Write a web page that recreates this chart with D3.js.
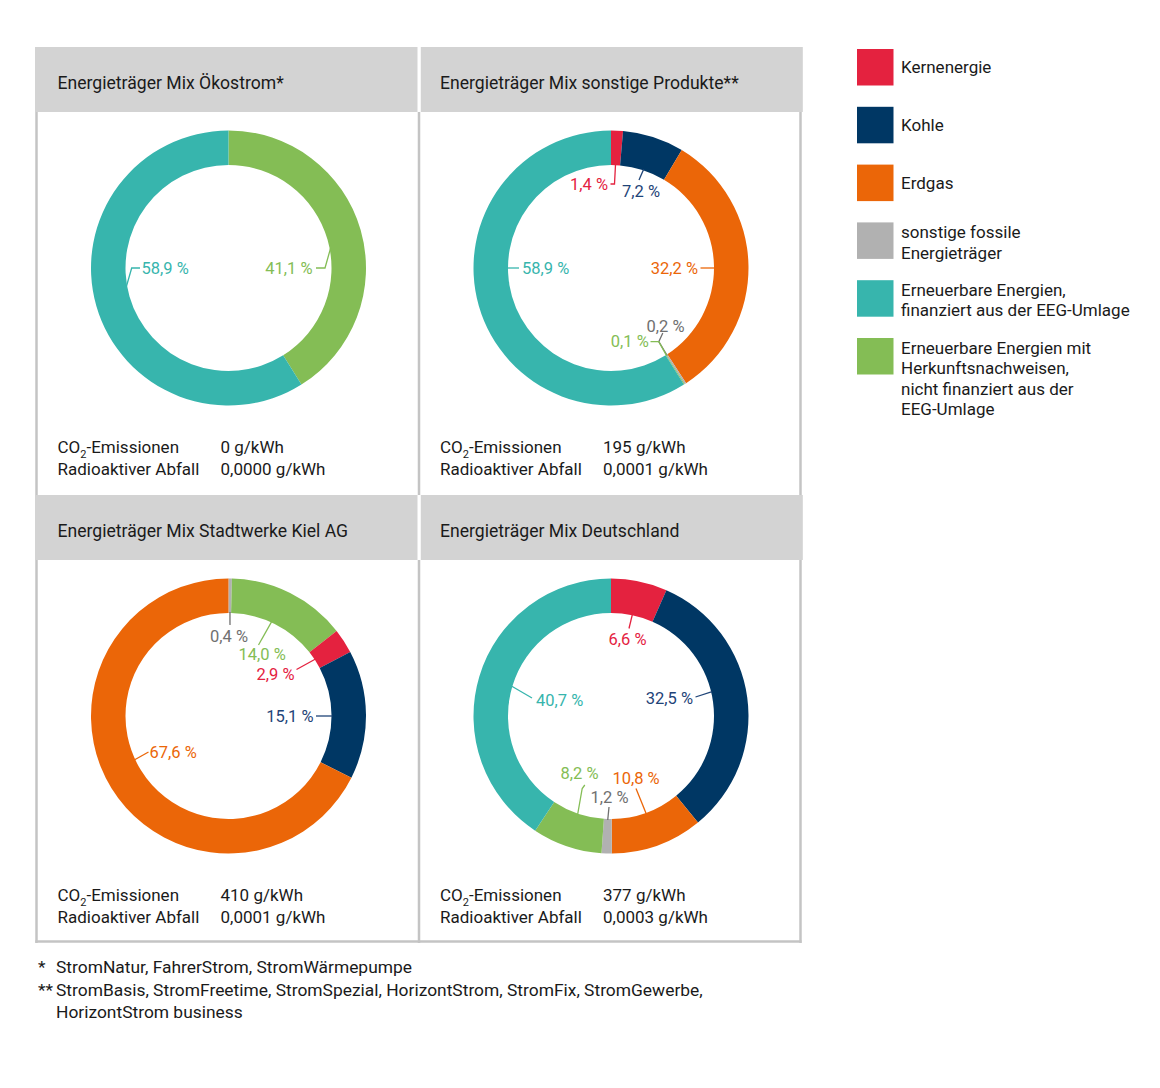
<!DOCTYPE html>
<html>
<head>
<meta charset="utf-8">
<script src="https://cdn.jsdelivr.net/npm/d3@7"></script>
<style>
  body { margin: 0; background: #fff; }
  svg { display: block; font-family: Roboto, "Noto Sans", sans-serif; }
</style>
</head>
<body>
<svg></svg>
<script>
//******************************data*****************************//
var categories = ["Kern", "Kohle", "Erdgas", "Sonstige", "EEG", "HKN"];
var legendLabels = [
  ["Kernenergie"],
  ["Kohle"],
  ["Erdgas"],
  ["sonstige fossile", "Energieträger"],
  ["Erneuerbare Energien,", "finanziert aus der EEG-Umlage"],
  ["Erneuerbare Energien mit", "Herkunftsnachweisen,", "nicht finanziert aus der", "EEG-Umlage"]
];

var panelTitles = [
  "Energieträger Mix Ökostrom*",
  "Energieträger Mix sonstige Produkte**",
  "Energieträger Mix Stadtwerke Kiel AG",
  "Energieträger Mix Deutschland"
];
var co2Values = ["0 g/kWh", "195 g/kWh", "410 g/kWh", "377 g/kWh"];
var wasteValues = ["0,0000 g/kWh", "0,0001 g/kWh", "0,0001 g/kWh", "0,0003 g/kWh"];

// slices in drawing order, clockwise from 12 o'clock
var oekoKeys = ["HKN", "EEG"];
var oekoValues = [41.1, 58.9];
var sonstKeys = ["Kern", "Kohle", "Erdgas", "Sonstige", "HKN", "EEG"];
var sonstValues = [1.4, 7.2, 32.2, 0.2, 0.1, 58.9];
var kielKeys = ["Sonstige", "HKN", "Kern", "Kohle", "Erdgas"];
var kielValues = [0.4, 14.0, 2.9, 15.1, 67.6];
var deKeys = ["Kern", "Kohle", "Erdgas", "Sonstige", "HKN", "EEG"];
var deValues = [6.6, 32.5, 10.8, 1.2, 8.2, 40.7];

var footnotes = [
  ["*", "StromNatur, FahrerStrom, StromWärmepumpe"],
  ["**", "StromBasis, StromFreetime, StromSpezial, HorizontStrom, StromFix, StromGewerbe,"],
  ["", "HorizontStrom business"]
];

//*****************************label placement (px from donut centre)********************************//
// a: angle where the leader meets the ring (null = slice middle), pts: leader bends, t: text spot
var oekoLabels = [
  {a: 79, pts: [[96.5, 0], [87.5, 0]], t: [84, 0], anchor: "end"},
  {a: 259.5, pts: [[-96.8, 0], [-88.5, 0]], t: [-87, 0], anchor: "start"}
];
var sonstLabels = [
  {a: 2.5, pts: [[3.5, -84], [-0.5, -84]], t: [-3, -84], anchor: "end"},
  {a: 18.3, pts: [[28, -88]], t: [11, -77], anchor: "start"},
  {a: 90, pts: [[89.5, 0]], t: [87, 0], anchor: "end"},
  {a: 147.3, pts: [[47.8, 73.7], [51.8, 65]], t: [35.5, 58.7], anchor: "start"},
  {a: 147.6, pts: [[47.8, 73.7], [39.5, 73.7]], t: [37.8, 73.7], anchor: "end"},
  {a: 270, pts: [[-92, 0]], t: [-89, 0], anchor: "start"}
];
var kielLabels = [
  {a: 0.8, pts: [[1.5, -91]], t: [0.5, -80], anchor: "middle"},
  {a: 24.6, pts: [[30, -71]], t: [10, -62], anchor: "start"},
  {a: 56.8, pts: [[68, -46.5]], t: [66, -42], anchor: "end"},
  {a: 90, pts: [[87.5, 0]], t: [85, 0], anchor: "end"},
  {a: 245, pts: [[-80, 36]], t: [-79, 36], anchor: "start"}
];
var deLabels = [
  {a: null, pts: [[18, -87.5]], t: [16.5, -76.5], anchor: "middle"},
  {a: 76.5, pts: [[84.5, -19]], t: [82, -18], anchor: "end"},
  {a: null, pts: [[25, 72.5]], t: [25, 62.5], anchor: "middle"},
  {a: null, pts: [[-2, 91]], t: [-1.5, 81], anchor: "middle"},
  {a: null, pts: [[-28.8, 72.5], [-26.2, 69]], t: [-31.5, 57.5], anchor: "middle"},
  {a: null, pts: [[-79, -18]], t: [-75, -15.5], anchor: "start"}
];

//*****************************drawing********************************//
var screen = {width: 1160, height: 1088};
var svg = d3.select("svg")
  .attr("width", screen.width)
  .attr("height", screen.height);

var fill = d3.scaleOrdinal(categories,
  ["#e4223f", "#003764", "#eb6608", "#b1b1b1", "#37b5ad", "#84bd55"]);
var ink = d3.scaleOrdinal(categories,
  ["#e4223f", "#1f4478", "#eb6608", "#707070", "#37b5ad", "#84bd55"]);

var de = d3.formatLocale({decimal: ",", thousands: ".", grouping: [3], currency: ["", " €"]});
var pct = function(v) { return de.format(".1f")(v) + " %"; };

var panels = [
  {keys: oekoKeys, values: oekoValues, labels: oekoLabels},
  {keys: sonstKeys, values: sonstValues, labels: sonstLabels},
  {keys: kielKeys, values: kielValues, labels: kielLabels},
  {keys: deKeys, values: deValues, labels: deLabels}
];

var grid = {left: 36.5, top: 47, colW: 382.5, rowH: 448, head: 65};
var inner = 103, outer = 137.5;
var arc = d3.arc().innerRadius(inner).outerRadius(outer);
var pie = d3.pie().sort(null).value(function(d) { return d.value; });

var border = "#c4c4c4";

// cell frame lines
var frame = svg.append("g").attr("stroke", border).attr("stroke-width", 2.5).attr("fill", "none");
[0, 1].forEach(function(r) {
  var y0 = grid.top + r * grid.rowH + grid.head;
  var y1 = grid.top + (r + 1) * grid.rowH;
  [0, 1, 2].forEach(function(c) {
    var x = grid.left + c * grid.colW - (c == 2 ? 1 : 0);
    frame.append("line").attr("x1", x).attr("x2", x).attr("y1", y0).attr("y2", y1);
  });
});
frame.append("line")
  .attr("x1", grid.left - 1.2).attr("x2", grid.left + 2 * grid.colW)
  .attr("y1", grid.top + 2 * grid.rowH - 1.5).attr("y2", grid.top + 2 * grid.rowH - 1.5);

panels.forEach(function(p, i) {
  var col = i % 2, row = Math.floor(i / 2);
  var x0 = grid.left + col * grid.colW;
  var y0 = grid.top + row * grid.rowH;
  var g = svg.append("g").attr("transform", "translate(" + x0 + "," + y0 + ")");

  // header band
  g.append("rect")
    .attr("x", col == 0 ? -1.5 : 1.8)
    .attr("y", 0)
    .attr("width", col == 0 ? 382.5 : 382)
    .attr("height", grid.head)
    .attr("fill", "#d3d3d3");
  g.append("text")
    .attr("x", 21)
    .attr("y", 36)
    .attr("dy", "0.35em")
    .attr("font-size", 17.6)
    .attr("fill", "#1a1a1a")
    .text(panelTitles[i]);

  // emissions
  var co2 = g.append("text")
    .attr("x", 21).attr("y", 400).attr("dy", "0.35em")
    .attr("font-size", 17).attr("fill", "#1a1a1a");
  co2.append("tspan").text("CO");
  co2.append("tspan").attr("font-size", 11).attr("dy", 5).text("2");
  co2.append("tspan").attr("dy", -5).text("-Emissionen");
  g.append("text")
    .attr("x", 21).attr("y", 422).attr("dy", "0.35em")
    .attr("font-size", 17).attr("fill", "#1a1a1a")
    .text("Radioaktiver Abfall");
  g.append("text")
    .attr("x", 184).attr("y", 400).attr("dy", "0.35em")
    .attr("font-size", 17).attr("fill", "#1a1a1a")
    .text(co2Values[i]);
  g.append("text")
    .attr("x", 184).attr("y", 422).attr("dy", "0.35em")
    .attr("font-size", 17).attr("fill", "#1a1a1a")
    .text(wasteValues[i]);

  // donut
  var data = p.keys.map(function(k, j) { return {key: k, value: p.values[j]}; });
  var arcs = pie(data);
  var donut = g.append("g").attr("transform", "translate(192," + 221 + ")");
  donut.selectAll("path")
    .data(arcs)
    .enter()
    .append("path")
    .attr("d", arc)
    .attr("fill", function(d) { return fill(d.data.key); });

  // labels
  arcs.forEach(function(d, j) {
    var L = p.labels[j];
    var ang = L.a == null ? (d.startAngle + d.endAngle) / 2 : L.a * Math.PI / 180;
    var start = d3.pointRadial(ang, inner + 1);
    var line = d3.line()([start].concat(L.pts));
    donut.append("path")
      .attr("d", line)
      .attr("fill", "none")
      .attr("stroke", ink(d.data.key))
      .attr("stroke-width", 1.3);
    donut.append("text")
      .attr("x", L.t[0])
      .attr("y", L.t[1])
      .attr("dy", "0.35em")
      .attr("text-anchor", L.anchor)
      .attr("font-size", 16.5)
      .attr("fill", ink(d.data.key))
      .text(pct(d.data.value));
  });
});

// legend
var legend = svg.append("g").attr("transform", "translate(857,49)");
var items = legend.selectAll("g")
  .data(categories)
  .enter()
  .append("g")
  .attr("transform", function(d, i) { return "translate(0," + (i * 57.8) + ")"; });
items.append("rect")
  .attr("width", 36.5)
  .attr("height", 36.5)
  .attr("fill", function(d) { return fill(d); });
items.each(function(d, i) {
  var lines = legendLabels[i];
  var t = d3.select(this).append("text")
    .attr("font-size", 17)
    .attr("fill", "#1a1a1a");
  lines.forEach(function(s, k) {
    t.append("tspan")
      .attr("x", 44)
      .attr("y", lines.length == 1 ? 18 : 10 + k * 20.3)
      .attr("dy", "0.35em")
      .text(s);
  });
});

// footnotes
var notes = svg.append("g").attr("font-size", 17.4).attr("fill", "#1a1a1a");
footnotes.forEach(function(f, i) {
  notes.append("text").attr("x", 38).attr("y", 967 + i * 22.5).attr("dy", "0.35em").text(f[0]);
  notes.append("text").attr("x", 56).attr("y", 967 + i * 22.5).attr("dy", "0.35em").text(f[1]);
});
</script>
</body>
</html>
